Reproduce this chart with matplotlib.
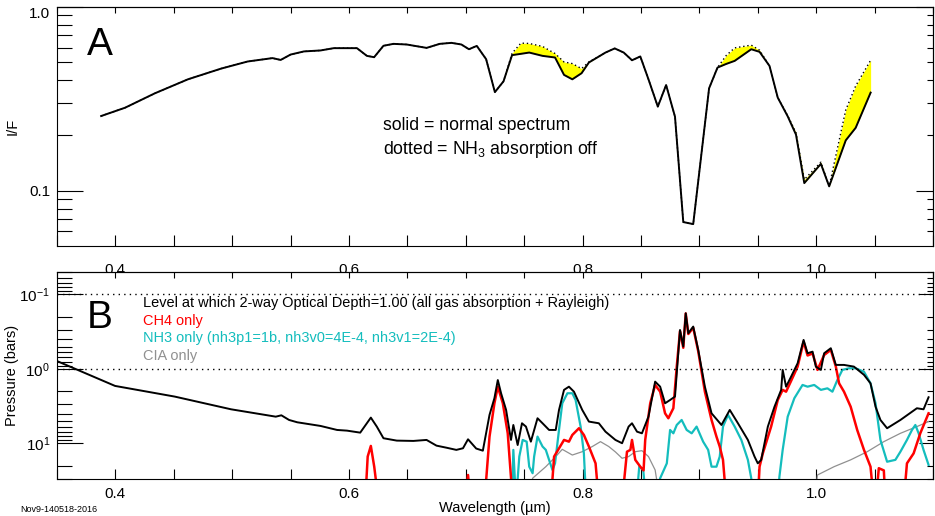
import numpy as np
import matplotlib
matplotlib.use("Agg")
import matplotlib.pyplot as plt
from matplotlib.ticker import FixedLocator, NullFormatter, FixedFormatter
import matplotlib.transforms as mtransforms

plt.rcParams['font.family'] = ['Liberation Sans', 'DejaVu Sans']
plt.rcParams['mathtext.fontset'] = 'custom'
plt.rcParams['mathtext.rm'] = 'Liberation Sans'
plt.rcParams['mathtext.it'] = 'Liberation Sans:italic'

# ---------------- Panel A: I/F spectra ----------------
wl_a = [0.3878, 0.4083, 0.4338, 0.4621, 0.4905, 0.5132, 0.5345, 0.5415, 0.5500, 0.5614,
        0.5756, 0.5870, 0.6068, 0.6153, 0.6215, 0.6295, 0.6380, 0.6494, 0.6664, 0.6777,
        0.6877, 0.6962, 0.7027, 0.7094, 0.7174, 0.7249, 0.7323, 0.7396, 0.7472, 0.7543,
        0.7657, 0.7764, 0.7841, 0.7912, 0.7991, 0.8054, 0.8196, 0.8275, 0.8352, 0.8423,
        0.8494, 0.8564, 0.8644, 0.8715, 0.8791, 0.8862, 0.8947, 0.9083, 0.9155, 0.9230,
        0.9302, 0.9444, 0.9515, 0.9600, 0.9671, 0.9756, 0.9827, 0.9898, 1.0040, 1.0111,
        1.0253, 1.0338, 1.0466]
if_normal = [0.255, 0.283, 0.339, 0.404, 0.462, 0.505, 0.527, 0.515, 0.551, 0.573,
             0.580, 0.597, 0.597, 0.542, 0.533, 0.615, 0.630, 0.625, 0.599, 0.630,
             0.638, 0.625, 0.589, 0.614, 0.520, 0.344, 0.394, 0.547, 0.556, 0.565,
             0.542, 0.531, 0.427, 0.404, 0.436, 0.499, 0.565, 0.595, 0.565, 0.513,
             0.538, 0.404, 0.287, 0.376, 0.253, 0.0675, 0.0658, 0.361, 0.468, 0.490,
             0.509, 0.589, 0.570, 0.478, 0.321, 0.254, 0.202, 0.110, 0.140, 0.1056,
             0.188, 0.220, 0.342]
if_nh3off = [0.255, 0.283, 0.339, 0.404, 0.462, 0.505, 0.527, 0.515, 0.551, 0.573,
             0.580, 0.597, 0.597, 0.542, 0.533, 0.615, 0.630, 0.625, 0.599, 0.630,
             0.638, 0.625, 0.589, 0.614, 0.520, 0.344, 0.394, 0.560, 0.636, 0.633,
             0.610, 0.558, 0.502, 0.492, 0.462, 0.502, 0.565, 0.595, 0.565, 0.513,
             0.538, 0.404, 0.287, 0.376, 0.253, 0.0675, 0.0658, 0.361, 0.468, 0.545,
             0.599, 0.620, 0.582, 0.478, 0.321, 0.256, 0.207, 0.115, 0.143, 0.1056,
             0.275, 0.372, 0.513]

# ---------------- Panel B: pressure of unit 2-way optical depth ----------------
wl_all = [0.3492, 0.3997, 0.4508, 0.4990, 0.5373, 0.5421, 0.5487, 0.5557, 0.5756, 0.5898,
          0.5983, 0.6096, 0.6187, 0.6238, 0.6295, 0.6409, 0.6551, 0.6664, 0.6749, 0.6834,
          0.6919, 0.6976, 0.7019, 0.7089, 0.7146, 0.7203, 0.7245, 0.7274, 0.7302, 0.7345,
          0.7387, 0.7407, 0.7444, 0.7481, 0.7515, 0.7557, 0.7614, 0.7657, 0.7713, 0.7770,
          0.7798, 0.7841, 0.7883, 0.7926, 0.7997, 0.8054, 0.8139, 0.8196, 0.8281, 0.8338,
          0.8394, 0.8423, 0.8466, 0.8508, 0.8564, 0.8621, 0.8664, 0.8706, 0.8749, 0.8791,
          0.8834, 0.8862, 0.8883, 0.8905, 0.8947, 0.8990, 0.9047, 0.9104, 0.9189, 0.9260,
          0.9330, 0.9415, 0.9472, 0.9500, 0.9529, 0.9586, 0.9643, 0.9700, 0.9713, 0.9742,
          0.9785, 0.9841, 0.9892, 0.9926, 0.9969, 0.9997, 1.0040, 1.0068, 1.0125, 1.0168,
          1.0238, 1.0323, 1.0409, 1.0465, 1.0508, 1.0550, 1.0607, 1.0721, 1.0862, 1.0919,
          1.0962]
p_all = [0.774, 1.69, 2.35, 3.48, 4.37, 4.19, 4.84, 5.20, 5.82, 6.59,
         6.73, 7.16, 4.50, 5.94, 8.51, 9.16, 9.25, 8.97, 10.7, 11.4,
         12.2, 11.6, 8.79, 11.7, 12.5, 4.14, 2.47, 1.41, 2.12, 3.55,
         8.97, 5.65, 10.5, 5.36, 5.94, 9.46, 4.59, 5.36, 6.59, 6.59,
         3.55, 1.91, 1.73, 2.02, 3.55, 5.09, 5.36, 6.95, 8.97, 9.93,
         5.94, 5.36, 6.95, 7.31, 4.37, 1.48, 1.73, 2.89, 2.61, 2.35,
         0.300, 0.501, 0.179, 0.332, 0.270, 0.556, 1.73, 3.94, 5.65, 3.55,
         5.36, 8.97, 15.0, 18.5, 16.6, 5.94, 3.21, 1.91, 1.03, 1.73,
         1.27, 0.839, 0.408, 0.616, 0.586, 0.931, 1.03, 0.616, 0.527, 0.883,
         0.883, 0.931, 1.20, 1.56, 3.21, 4.84, 6.25, 4.84, 3.37, 3.48,
         2.40]

wl_ch4 = [0.6100, 0.6139, 0.6160, 0.6187, 0.6216, 0.6253, 0.6990, 0.7019, 0.7040,
          0.7160, 0.7203, 0.7245, 0.7274, 0.7317, 0.7359, 0.7402,
          0.7728, 0.7756, 0.7841, 0.7883, 0.7912, 0.7969, 0.8011, 0.8054, 0.8111, 0.8139,
          0.8338, 0.8380, 0.8409, 0.8423, 0.8451, 0.8494, 0.8522, 0.8536, 0.8579, 0.8621,
          0.8664, 0.8706, 0.8734, 0.8777, 0.8806, 0.8834, 0.8862, 0.8883, 0.8905, 0.8947,
          0.8990, 0.9047, 0.9104, 0.9146, 0.9174, 0.9202, 0.9231,
          0.9500, 0.9515, 0.9543, 0.9614, 0.9671, 0.9713, 0.9742, 0.9785, 0.9841, 0.9892,
          0.9926, 0.9969, 1.0011, 1.0068, 1.0125, 1.0168, 1.0196, 1.0238, 1.0295, 1.0351,
          1.0409, 1.0465, 1.0494, 1.0511, 1.0536, 1.0579, 1.0593, 1.0749, 1.0777, 1.0834,
          1.0891, 1.0962]
p_ch4 = [60, 60, 15.0, 10.8, 20.5, 60, 60, 26.5, 60,
         60, 8.09, 2.89, 1.73, 2.89, 7.31, 60,
         60, 15.0, 8.97, 9.46, 7.69, 6.25, 7.69, 11.0, 18.5, 60,
         60, 12.9, 12.2, 8.97, 16.6, 20.5, 23.0, 8.97, 2.89, 1.64,
         2.02, 3.94, 4.59, 3.37, 0.93, 0.31, 0.52, 0.18, 0.34, 0.28,
         0.58, 2.02, 4.84, 8.09, 11.0, 16.6, 60,
         60, 20.5, 13.6, 5.94, 2.61, 1.91, 2.02, 1.45, 0.93, 0.43,
         0.66, 0.62, 1.03, 0.65, 0.556, 0.93, 1.56, 2.02, 3.21, 6.59,
         12.2, 20.5, 60, 60, 21.5, 23.0, 60, 60, 18.5, 13.6,
         7.31, 3.94]

wl_nh3 = [0.7396, 0.7407, 0.7430, 0.7458, 0.7487, 0.7521, 0.7543, 0.7572, 0.7585, 0.7614,
          0.7657, 0.7685, 0.7713, 0.7742, 0.7764, 0.7798, 0.7826, 0.7870, 0.7912, 0.7940,
          0.7983, 0.8011, 0.8031,
          0.8460, 0.8485, 0.8519, 0.8545,
          0.8621, 0.8664, 0.8721, 0.8749, 0.8777, 0.8806, 0.8848, 0.8891, 0.8934, 0.8976,
          0.9032, 0.9075, 0.9104, 0.9146, 0.9174, 0.9202, 0.9245, 0.9302, 0.9359, 0.9415,
          0.9444, 0.9455,
          0.9668, 0.9685, 0.9713, 0.9756, 0.9813, 0.9883, 0.9926, 0.9983, 1.0040, 1.0096,
          1.0139, 1.0181, 1.0224, 1.0281, 1.0338, 1.0409, 1.0465, 1.0508, 1.0550, 1.0607,
          1.0678, 1.0721, 1.0777, 1.0820, 1.0849, 1.0877, 1.0919, 1.0962]
p_nh3 = [60, 12.2, 60, 15.0, 8.97, 9.46, 20.5, 25.1, 15.0, 8.09,
         11.0, 12.2, 16.6, 22.7, 18.5, 6.59, 2.89, 2.12, 2.12, 2.61,
         5.94, 13.6, 60,
         60, 20.5, 22.7, 60,
         60, 29.3, 18.5, 6.59, 7.31, 5.65, 4.84, 6.59, 7.31, 5.94,
         9.46, 12.2, 20.5, 20.5, 15.0, 5.94, 4.14, 5.94, 8.97, 16.6,
         29.3, 60,
         60, 27.9, 12.2, 4.37, 2.47, 1.64, 1.73, 1.64, 1.91, 1.82,
         2.02, 1.41, 1.03, 0.98, 0.98, 1.09, 1.56, 2.89, 8.97, 17.6,
         16.6, 12.9, 8.97, 6.59, 5.65, 7.31, 12.2, 19.4]

wl_cia = [0.7543, 0.7572, 0.7685, 0.7770, 0.7826, 0.7912, 0.7997, 0.8083, 0.8153, 0.8224,
          0.8281, 0.8338, 0.8394, 0.8451, 0.8508, 0.8564, 0.8621, 0.8664,
          0.9983, 1.0011, 1.0153, 1.0295, 1.0437, 1.0579, 1.0721, 1.0862, 1.0962]
p_cia = [60, 29.3, 20.5, 15.0, 12.0, 14.3, 12.9, 11.0, 9.46, 11.0,
         13.0, 15.8, 15.0, 12.9, 12.5, 15.0, 22.7, 60,
         60, 26.5, 20.5, 16.6, 12.9, 9.46, 7.31, 5.94, 5.09]

# ---------------- Figure ----------------
fig = plt.figure(figsize=(9.35, 5.16), dpi=100)
L, R = 57 / 935, 933 / 935
axA = fig.add_axes([L, 1 - 246 / 516, R - L, (246 - 7) / 516])
axB = fig.add_axes([L, 1 - 479 / 516, R - L, (479 - 272) / 516])

XL = (0.35, 1.0955)
xt_all = np.round(np.arange(0.35, 1.10, 0.05), 2)


def style_x(ax, top_len, bot_len, pad):
    ax.set_xlim(*XL)
    ax.set_xticks(xt_all)
    ax.set_xticklabels([(f"{v:.1f}" if round(v * 10, 6) % 2 == 0 else '') for v in xt_all])
    ax.tick_params(axis='x', which='both', direction='in', length=bot_len, width=0.8,
                   labelsize=11, pad=pad, top=False)
    sec = ax.secondary_xaxis('top')
    sec.set_xticks(xt_all)
    sec.set_xticklabels([])
    sec.tick_params(axis='x', direction='in', length=top_len, width=0.8)


def style_y(ax, majors, minors, maj_len, min_len, rmaj, rmin):
    ax.yaxis.set_major_locator(FixedLocator(majors))
    ax.yaxis.set_minor_locator(FixedLocator(minors))
    ax.yaxis.set_minor_formatter(NullFormatter())
    ax.tick_params(axis='y', which='major', direction='in', length=maj_len, width=0.8,
                   labelsize=11, right=False, pad=5)
    ax.tick_params(axis='y', which='minor', direction='in', length=min_len, width=0.8,
                   right=False)
    sec = ax.secondary_yaxis('right')
    sec.yaxis.set_major_locator(FixedLocator(majors))
    sec.yaxis.set_minor_locator(FixedLocator(minors))
    sec.yaxis.set_major_formatter(NullFormatter())
    sec.yaxis.set_minor_formatter(NullFormatter())
    sec.tick_params(axis='y', which='major', direction='in', length=rmaj, width=0.8)
    sec.tick_params(axis='y', which='minor', direction='in', length=rmin, width=0.8)


# Panel A
axA.set_yscale('log')
axA.fill_between(wl_a, if_normal, if_nh3off, color='#ffff00', linewidth=0)
axA.plot(wl_a, if_nh3off, color='black', linestyle=(0, (1, 2)), linewidth=1.0)
axA.plot(wl_a, if_normal, color='black', linewidth=1.4)
axA.set_ylim(0.05, 1.0)
style_x(axA, 4, 8, 12)
style_y(axA, [0.1, 1.0], [0.06, 0.07, 0.08, 0.09, 0.2, 0.3, 0.4, 0.5, 0.6, 0.7, 0.8, 0.9],
        19, 11, 12, 4)
axA.yaxis.set_major_formatter(FixedFormatter(['0.1', '']))
blendA = mtransforms.blended_transform_factory(axA.transAxes, axA.transData)
axA.text(-0.008, 1.0, '1.0', transform=blendA, fontsize=11, ha='right', va='top')
axA.set_ylabel('I/F', fontsize=10.5)
axA.yaxis.set_label_coords(-0.043, 0.5)
axA.text(0.049, 0.84, 'A', transform=axA.transAxes, fontsize=28, ha='center', va='center')
axA.text(0.372, 0.506, 'solid = normal spectrum', transform=axA.transAxes, fontsize=12.7,
         ha='left', va='center')
axA.text(0.372, 0.402, 'dotted = NH$_3$ absorption off', transform=axA.transAxes,
         fontsize=12.7, ha='left', va='center')

# Panel B
axB.set_yscale('log')
axB.plot(wl_cia, p_cia, color='#909090', linewidth=0.9)
axB.plot(wl_nh3, p_nh3, color='#14BDBD', linewidth=1.6)
axB.plot(wl_ch4, p_ch4, color='#ff0000', linewidth=1.8)
axB.plot(wl_all, p_all, color='black', linewidth=1.4)
axB.axhline(0.1, color='black', linestyle=(0, (1, 3)), linewidth=1.0)
axB.axhline(1.0, color='black', linestyle=(0, (1, 3)), linewidth=1.0)
axB.set_ylim(30, 0.05)
style_x(axB, 4, 7, 6)
bmin = [0.05, 0.06, 0.07, 0.08, 0.09, 0.2, 0.3, 0.4, 0.5, 0.6, 0.7, 0.8, 0.9,
        2, 3, 4, 5, 6, 7, 8, 9, 20, 30]
style_y(axB, [0.1, 1.0, 10.0], bmin, 19, 11, 10, 4)
axB.yaxis.set_major_formatter(FixedFormatter(['10$^{-1}$', '10$^{0}$', '10$^{1}$']))
axB.set_ylabel('Pressure (bars)', fontsize=10.5)
axB.yaxis.set_label_coords(-0.043, 0.5)
axB.set_xlabel('Wavelength (\u00b5m)', fontsize=10.5)
axB.xaxis.set_label_coords(0.5, -0.105)
axB.text(0.049, 0.778, 'B', transform=axB.transAxes, fontsize=28, ha='center', va='center')
legend_items = [
    ('Level at which 2-way Optical Depth=1.00 (all gas absorption + Rayleigh)', 'black'),
    ('CH4 only', '#ff0000'),
    ('NH3 only (nh3p1=1b, nh3v0=4E-4, nh3v1=2E-4)', '#14BDBD'),
    ('CIA only', '#909090'),
]
for i, (txt, col) in enumerate(legend_items):
    axB.text(0.098, 0.850 - i * 0.0853, txt, transform=axB.transAxes, color=col,
             fontsize=10.45, ha='left', va='center')

fig.text(20 / 935, 1 - 510 / 516, 'Nov9-140518-2016', fontsize=6.5, ha='left', va='center')

fig.savefig('out.png', dpi=100)
